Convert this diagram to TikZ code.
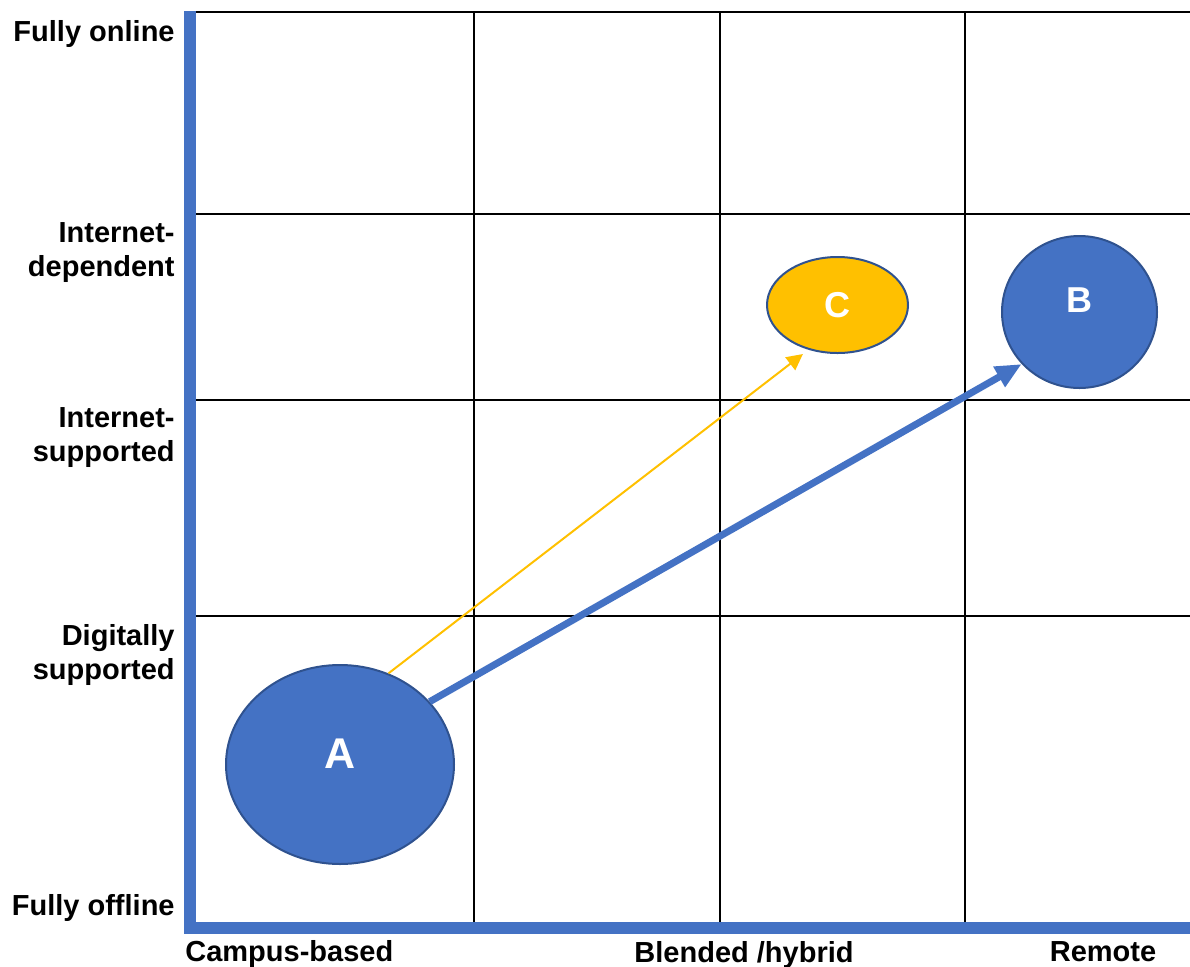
\documentclass[tikz,border=0pt]{standalone}
\usepackage{fontspec}
\setmainfont{Liberation Sans}
\usetikzlibrary{shapes.geometric,arrows.meta}
\definecolor{officeblue}{HTML}{4472C4}
\definecolor{darkblue}{HTML}{2F528F}
\definecolor{gold}{HTML}{FFC000}

\begin{document}
\begin{tikzpicture}[x=0.5pt,y=-0.5pt,
        gridline/.style={black,line width=1pt},
        axisline/.style={officeblue,line width=6pt},
        axislabel/.style={font=\fontsize{14.5}{17}\selectfont\bfseries,inner sep=0pt},
        blob/.style={ellipse,draw=darkblue,line width=1pt,inner sep=0pt},
        bloblabel/.style={text=white,inner sep=0pt}]
        \useasboundingbox (0,0) rectangle (1190,966);
        % grid
        \draw[gridline] (184,12) -- (1190,12);
        \foreach \y in {214,400,616}
            \draw[gridline] (196,\y) -- (1190,\y);
        \foreach \x in {474,720,965}
            \draw[gridline] (\x,12) -- (\x,922);
        \draw[axisline] (190,11) -- (190,927.5) -- (1190,927.5);
        % axis labels
        \node[axislabel,anchor=base east] (online) at (175,41) {Fully online};
        \node[axislabel,anchor=east,align=right] (dependent) at (175,252.6) {Internet-\\dependent};
        \node[axislabel,anchor=east,align=right] (supported) at (175,437.6) {Internet-\\supported};
        \node[axislabel,anchor=east,align=right] (digital) at (175,654.6) {Digitally\\supported};
        \node[axislabel,anchor=base east] (offline) at (175,915) {Fully offline};
        \node[axislabel,anchor=base west] (campus) at (185,961) {Campus-based};
        \node[axislabel,anchor=base] (blended) at (744,962) {Blended /hybrid};
        \node[axislabel,anchor=base] (remote) at (1103,961) {Remote};
        % positions
        \node[blob,fill=officeblue,minimum width=114pt,minimum height=99.5pt,
            label={[bloblabel,font=\fontsize{21.5}{24}\selectfont\bfseries,yshift=5.5pt]center:A}] (A) at (340,764.5) {};
        \node[blob,fill=officeblue,minimum width=77.5pt,minimum height=76pt,
            label={[bloblabel,font=\fontsize{18}{20}\selectfont\bfseries,yshift=6pt]center:B}] (B) at (1079.5,312) {};
        \node[blob,fill=gold,minimum width=70.5pt,minimum height=48pt,
            label={[bloblabel,font=\fontsize{18}{20}\selectfont\bfseries]center:C}] (C) at (837.5,305) {};
        % moves
        \draw[officeblue,line width=3.5pt,-{Triangle[length=13pt,width=11pt]}] (A.35) -- (B.222);
        \draw[gold,line width=1pt,shorten >=3.5pt,-{Triangle[length=8pt,width=8pt]}] (A.62) -- (C.237);
    \end{tikzpicture}
\end{document}
